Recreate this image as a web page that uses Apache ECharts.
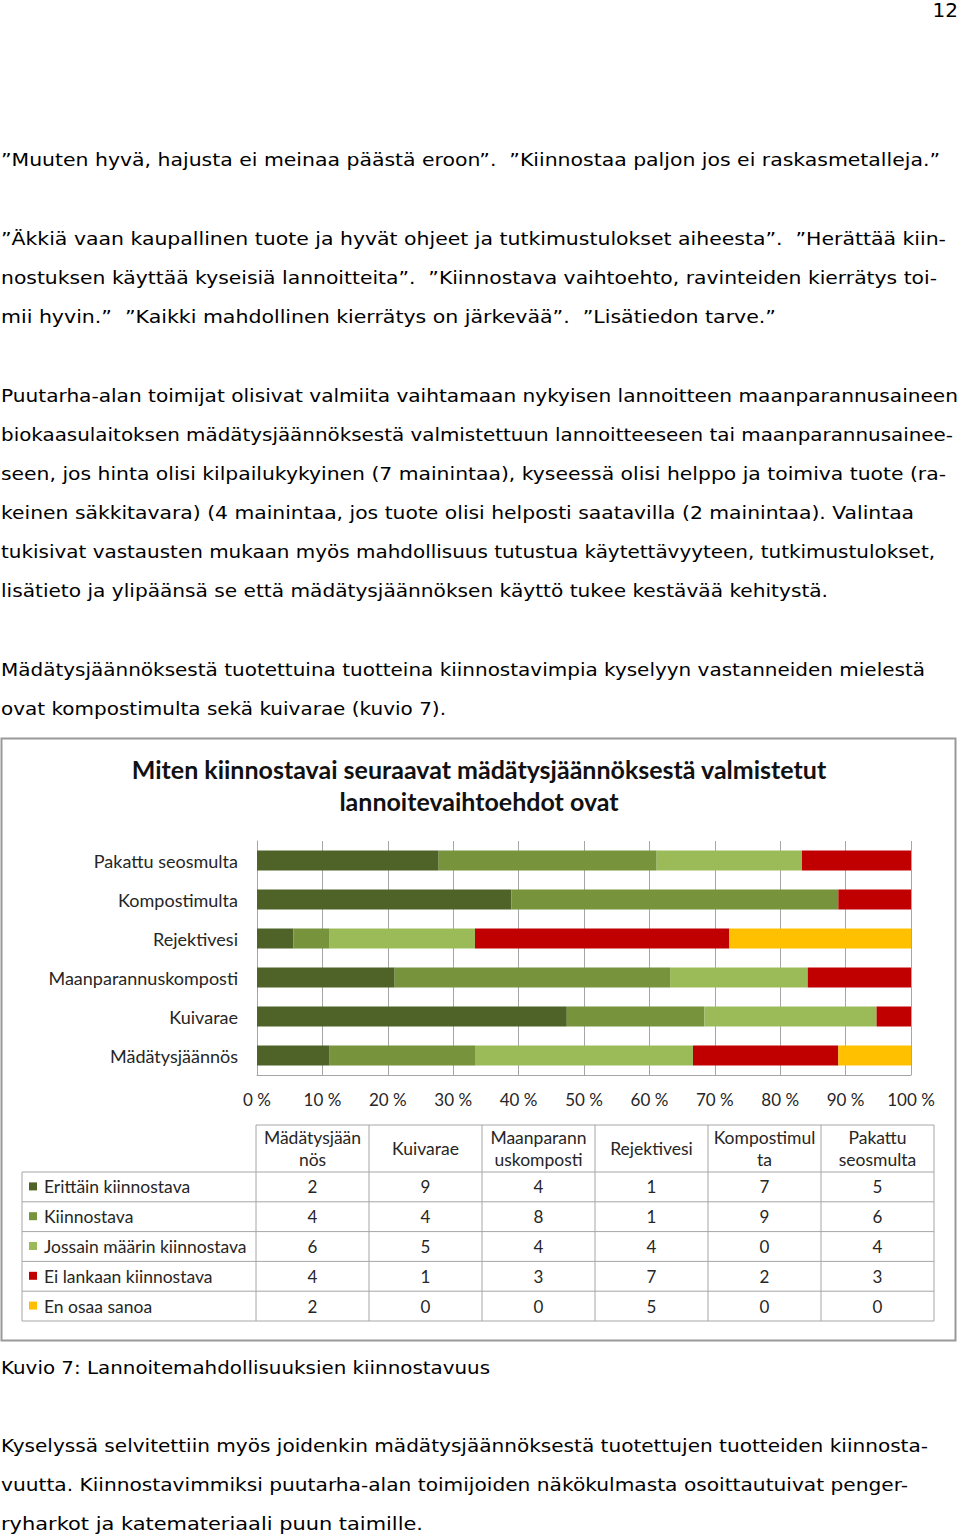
<!DOCTYPE html>
<html><head><meta charset="utf-8">
<script src="https://cdn.jsdelivr.net/npm/echarts@6/dist/echarts.min.js"></script>
<style>
html,body{margin:0;padding:0;background:#fff;}
body{width:960px;height:1539px;position:relative;overflow:hidden;font-family:"DejaVu Sans",sans-serif;color:#000;}
.ln{position:absolute;white-space:pre;font-size:17.5px;line-height:24px;height:24px;transform-origin:0 50%;}
#chart{position:absolute;left:0;top:737px;width:958px;height:607px;}
</style></head><body>
<div id="page"></div>
<div id="chart"></div>
<script>
// ---------- data ----------
const categories = ['Mädätysjäännös', 'Kuivarae', 'Maanparannuskomposti', 'Rejektivesi', 'Kompostimulta', 'Pakattu seosmulta'];
const tableHeaders = ['Mädätysjään\nnös', 'Kuivarae', 'Maanparann\nuskomposti', 'Rejektivesi', 'Kompostimul\nta', 'Pakattu\nseosmulta'];
const seriesNames = ['Erittäin kiinnostava', 'Kiinnostava', 'Jossain määrin kiinnostava', 'Ei lankaan kiinnostava', 'En osaa sanoa'];
const erittain = [2, 9, 4, 1, 7, 5];
const kiinnostava = [4, 4, 8, 1, 9, 6];
const jossain = [6, 5, 4, 4, 0, 4];
const eiLainkaan = [4, 1, 3, 7, 2, 3];
const enOsaa = [2, 0, 0, 5, 0, 0];
const seriesValues = [erittain, kiinnostava, jossain, eiLainkaan, enOsaa];
const seriesColors = ['#4F6228', '#77933C', '#9BBB59', '#C00000', '#FFC000'];
const chartTitle = 'Miten kiinnostavai seuraavat mädätysjäännöksestä valmistetut\nlannoitevaihtoehdot ovat';

// ---------- page text ----------
const textLines = [
  ['”Muuten hyvä, hajusta ei meinaa päästä eroon”.  ”Kiinnostaa paljon jos ei raskasmetalleja.”', 160, 940],
  ['”Äkkiä vaan kaupallinen tuote ja hyvät ohjeet ja tutkimustulokset aiheesta”.  ”Herättää kiin-', 239, 946],
  ['nostuksen käyttää kyseisiä lannoitteita”.  ”Kiinnostava vaihtoehto, ravinteiden kierrätys toi-', 278, 937],
  ['mii hyvin.”  ”Kaikki mahdollinen kierrätys on järkevää”.  ”Lisätiedon tarve.”', 317, 776],
  ['Puutarha-alan toimijat olisivat valmiita vaihtamaan nykyisen lannoitteen maanparannusaineen', 396, 958],
  ['biokaasulaitoksen mädätysjäännöksestä valmistettuun lannoitteeseen tai maanparannusainee-', 435, 953],
  ['seen, jos hinta olisi kilpailukykyinen (7 mainintaa), kyseessä olisi helppo ja toimiva tuote (ra-', 474, 946],
  ['keinen säkkitavara) (4 mainintaa, jos tuote olisi helposti saatavilla (2 mainintaa). Valintaa', 513, 914],
  ['tukisivat vastausten mukaan myös mahdollisuus tutustua käytettävyyteen, tutkimustulokset,', 552, 935],
  ['lisätieto ja ylipäänsä se että mädätysjäännöksen käyttö tukee kestävää kehitystä.', 591, 828],
  ['Mädätysjäännöksestä tuotettuina tuotteina kiinnostavimpia kyselyyn vastanneiden mielestä', 670, 925],
  ['ovat kompostimulta sekä kuivarae (kuvio 7).', 709, 446],
  ['Kuvio 7: Lannoitemahdollisuuksien kiinnostavuus', 1368, 490],
  ['Kyselyssä selvitettiin myös joidenkin mädätysjäännöksestä tuotettujen tuotteiden kiinnosta-', 1446, 928],
  ['vuutta. Kiinnostavimmiksi puutarha-alan toimijoiden näkökulmasta osoittautuivat penger-', 1485, 908],
  ['ryharkot ja katemateriaali puun taimille.', 1524, 423]
];
(function(){
  const page = document.getElementById('page');
  const cv = document.createElement('canvas').getContext('2d');
  cv.font = '17.5px "DejaVu Sans"';
  const left = 1;
  textLines.forEach(([t, cy, right]) => {
    const d = document.createElement('div');
    d.className = 'ln';
    d.textContent = t;
    d.style.left = left + 'px';
    d.style.top = (cy - 12) + 'px';
    const w = cv.measureText(t).width;
    d.style.transform = 'scaleX(' + ((right - left) / w).toFixed(4) + ')';
    page.appendChild(d);
  });
  const pn = document.createElement('div');
  pn.className = 'ln';
  pn.style.fontSize = '20px';
  pn.style.right = '2px';
  pn.style.top = '-2px';
  pn.textContent = '12';
  page.appendChild(pn);
})();

// ---------- chart ----------
const chart = echarts.init(document.getElementById('chart'), null, {renderer: 'svg'});
const totals = categories.map((c, i) => seriesValues.reduce((s, arr) => s + arr[i], 0));
const FONT = 'Lato, "Open Sans", sans-serif';
const TXT = '#262626';

// table layout
const tLeft = 22, tColStart = 256, tColW = 113, tTop = 388, tHeadB = 435, tRowH = 29.8;
const nCols = categories.length, nRows = seriesNames.length;
const tRight = tColStart + nCols * tColW;
const tBottom = tHeadB + nRows * tRowH;
const lineStyle = {stroke: '#A6A6A6', lineWidth: 1};
const g = [];
g.push({type: 'rect', shape: {x: 1.5, y: 1.5, width: 954, height: 602}, style: {fill: null, stroke: '#999', lineWidth: 2}, silent: true});
g.push({type: 'line', shape: {x1: tColStart, y1: tTop, x2: tRight, y2: tTop}, style: lineStyle});
for (let r = 0; r <= nRows; r++) {
  const y = tHeadB + r * tRowH;
  g.push({type: 'line', shape: {x1: tLeft, y1: y, x2: tRight, y2: y}, style: lineStyle});
}
g.push({type: 'line', shape: {x1: tLeft, y1: tHeadB, x2: tLeft, y2: tBottom}, style: lineStyle});
for (let c = 0; c <= nCols; c++) {
  const x = tColStart + c * tColW;
  g.push({type: 'line', shape: {x1: x, y1: tTop, x2: x, y2: tBottom}, style: lineStyle});
}
tableHeaders.forEach((h, c) => {
  g.push({type: 'text', x: tColStart + (c + 0.5) * tColW, y: (tTop + tHeadB) / 2,
    style: {text: h, fill: TXT, font: '17.5px ' + FONT, align: 'center', verticalAlign: 'middle', lineHeight: 22}});
});
seriesNames.forEach((n, r) => {
  const cy = tHeadB + (r + 0.5) * tRowH;
  g.push({type: 'rect', shape: {x: 29, y: cy - 4.5, width: 8, height: 8}, style: {fill: seriesColors[r]}});
  g.push({type: 'text', x: 44, y: cy, style: {text: n, fill: TXT, font: '17.5px ' + FONT, align: 'left', verticalAlign: 'middle'}});
  seriesValues[r].forEach((v, c) => {
    g.push({type: 'text', x: tColStart + (c + 0.5) * tColW, y: cy,
      style: {text: String(v), fill: TXT, font: '17px ' + FONT, align: 'center', verticalAlign: 'middle'}});
  });
});

const option = {
  animation: false,
  backgroundColor: 'transparent',
  title: {
    text: chartTitle, left: 'center', top: 11,
    textStyle: {fontFamily: FONT, fontWeight: 'bold', fontSize: 25, color: '#111', lineHeight: 32}
  },
  grid: {left: 257, right: 47, top: 104, height: 234, containLabel: false},
  xAxis: {
    type: 'value', min: 0, max: 100, interval: 10,
    axisLine: {show: true, lineStyle: {color: '#A6A6A6', width: 1}},
    axisTick: {show: false},
    splitLine: {show: true, lineStyle: {color: '#A6A6A6', width: 1}},
    axisLabel: {formatter: '{value} %', color: TXT, fontFamily: FONT, fontSize: 17, margin: 16}
  },
  yAxis: {
    type: 'category', data: categories,
    axisLine: {show: true, lineStyle: {color: '#A6A6A6', width: 1}},
    axisTick: {show: false},
    axisLabel: {color: TXT, fontFamily: FONT, fontSize: 18, margin: 19}
  },
  series: seriesNames.map((n, s) => ({
    name: n, type: 'bar', stack: 'total', barWidth: 20,
    itemStyle: {color: seriesColors[s]},
    data: seriesValues[s].map((v, i) => v / totals[i] * 100)
  })),
  graphic: g
};
chart.setOption(option);
</script>
</body></html>
